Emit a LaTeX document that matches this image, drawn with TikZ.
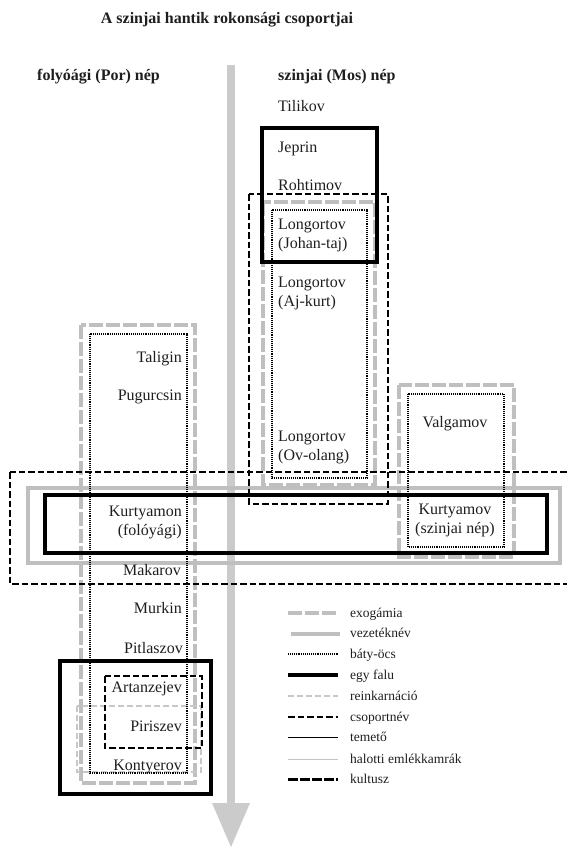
\documentclass[tikz,border=0pt]{standalone}
\usepackage{fontspec}
\setmainfont{Liberation Serif}
\definecolor{exogray}{HTML}{BFBFBF}
\definecolor{reingray}{HTML}{C8C8C8}
\definecolor{arrowgray}{HTML}{CBCBCB}
\definecolor{thingray}{HTML}{C4C4C4}
\definecolor{textcol}{HTML}{1E1E1E}
\tikzset{
  exogamia/.style={draw=exogray, line width=4pt, dash pattern=on 14pt off 3pt},
  vezeteknev/.style={draw=exogray, line width=4pt},
  batyocs/.style={draw=black, line width=2.2pt, dash pattern=on 1pt off 0.9pt},
  egyfalu/.style={draw=black, line width=3.8pt},
  reinkarnacio/.style={draw=reingray, line width=2.4pt, dash pattern=on 6pt off 3pt},
  csoportnev/.style={draw=black, line width=2.6pt, dash pattern=on 6.5pt off 3pt},
  temeto/.style={draw=black, line width=1.4pt},
  halotti/.style={draw=thingray, line width=1pt},
  kultusz/.style={draw=black, line width=3pt, dash pattern=on 10pt off 2pt},
  nev/.style={font=\fontsize{16}{19}\selectfont, inner sep=0pt, text=textcol},
  fejlec/.style={font=\fontsize{16}{19}\selectfont\bfseries, inner sep=0pt, text=textcol},
  jelmagy/.style={font=\fontsize{13.5}{16}\selectfont, inner sep=0pt, text=textcol, anchor=base west},
}
\begin{document}
\begin{tikzpicture}[x=1pt, y=-1pt]
\useasboundingbox (0,0) rectangle (567,847);
\clip (0,0) rectangle (567,847);

% time axis arrow
\fill[arrowgray] (227.3,65) rectangle (234.7,804);
\fill[arrowgray] (212,803) -- (250,803) -- (231,847) -- cycle;

% headings
\node[fejlec, anchor=base] (cim) at (227,23) {A szinjai hantik rokonsági csoportjai};
\node[fejlec, anchor=base west] (por) at (37,80) {folyóági (Por) nép};
\node[fejlec, anchor=base west] (mos) at (278,80) {szinjai (Mos) nép};

% gray frames
\draw[exogamia] (263,202) rectangle (375,485);
\draw[exogamia] (81,325) rectangle (195,783);
\draw[exogamia] (399,385) rectangle (514,557);
\draw[vezeteknev] (28,488) rectangle (560,563);
\draw[reinkarnacio] (77,706) rectangle (201,772);

% black frames
\draw[batyocs] (272,210) rectangle (367,478);
\draw[batyocs] (90,334) rectangle (187,773);
\draw[batyocs] (408,394) rectangle (504,547);
\draw[egyfalu] (262,128) rectangle (377,262);
\draw[egyfalu] (45,495) rectangle (547,553);
\draw[egyfalu] (60,661) rectangle (211,794);
\draw[csoportnev] (249,194) rectangle (388,504);
\draw[csoportnev] (10,472) rectangle (580,584);
\draw[csoportnev] (105,676) rectangle (202,748);

% szinjai (Mos) lineages
\node[nev, anchor=base west] (tilikov) at (278,111) {Tilikov};
\node[nev, anchor=base west] (jeprin) at (278,152) {Jeprin};
\node[nev, anchor=base west] (rohtimov) at (278,190) {Rohtimov};
\node[nev, anchor=west, align=left] (johantaj) at (278,235.5) {Longortov\\(Johan-taj)};
\node[nev, anchor=west, align=left] (ajkurt) at (278,293) {Longortov\\(Aj-kurt)};
\node[nev, anchor=west, align=left] (ovolang) at (278,447.5) {Longortov\\(Ov-olang)};
\node[nev, anchor=base] (valgamov) at (455,427) {Valgamov};
\node[nev, align=center] (kurtyamov) at (455,520.5) {Kurtyamov\\(szinjai nép)};

% folyoagi (Por) lineages
\node[nev, anchor=base east] (taligin) at (182,362) {Taligin};
\node[nev, anchor=base east] (pugurcsin) at (182,400) {Pugurcsin};
\node[nev, anchor=east, align=right] (kurtyamon) at (182,522.5) {Kurtyamon\\(folóyági)};
\node[nev, anchor=base east] (makarov) at (181,575) {Makarov};
\node[nev, anchor=base east] (murkin) at (182,613) {Murkin};
\node[nev, anchor=base east] (pitlaszov) at (183,653) {Pitlaszov};
\node[nev, anchor=base east] (artanzejev) at (182,692) {Artanzejev};
\node[nev, anchor=base east] (piriszev) at (182,731) {Piriszev};
\node[nev, anchor=base east] (kontyerov) at (182,770) {Kontyerov};

% legend
\draw[exogamia] (288,613) -- (338,613);
\node[jelmagy] (j1) at (350,617) {exogámia};
\draw[vezeteknev] (291,633.5) -- (340,633.5);
\node[jelmagy] (j2) at (350,637.5) {vezetéknév};
\draw[batyocs] (288,654) -- (338,654);
\node[jelmagy] (j3) at (350,658) {báty-öcs};
\draw[egyfalu] (288,675) -- (338,675);
\node[jelmagy] (j4) at (350,679) {egy falu};
\draw[reinkarnacio] (288,696) -- (338,696);
\node[jelmagy] (j5) at (350,700) {reinkarnáció};
\draw[csoportnev] (288,717) -- (338,717);
\node[jelmagy] (j6) at (350,721) {csoportnév};
\draw[temeto] (288,737.5) -- (338,737.5);
\node[jelmagy] (j7) at (350,741.5) {temető};
\draw[halotti] (288,759) -- (338,759);
\node[jelmagy] (j8) at (350,763) {halotti emlékkamrák};
\draw[kultusz] (288,779.5) -- (338,779.5);
\node[jelmagy] (j9) at (350,783.5) {kultusz};
\end{tikzpicture}
\end{document}
